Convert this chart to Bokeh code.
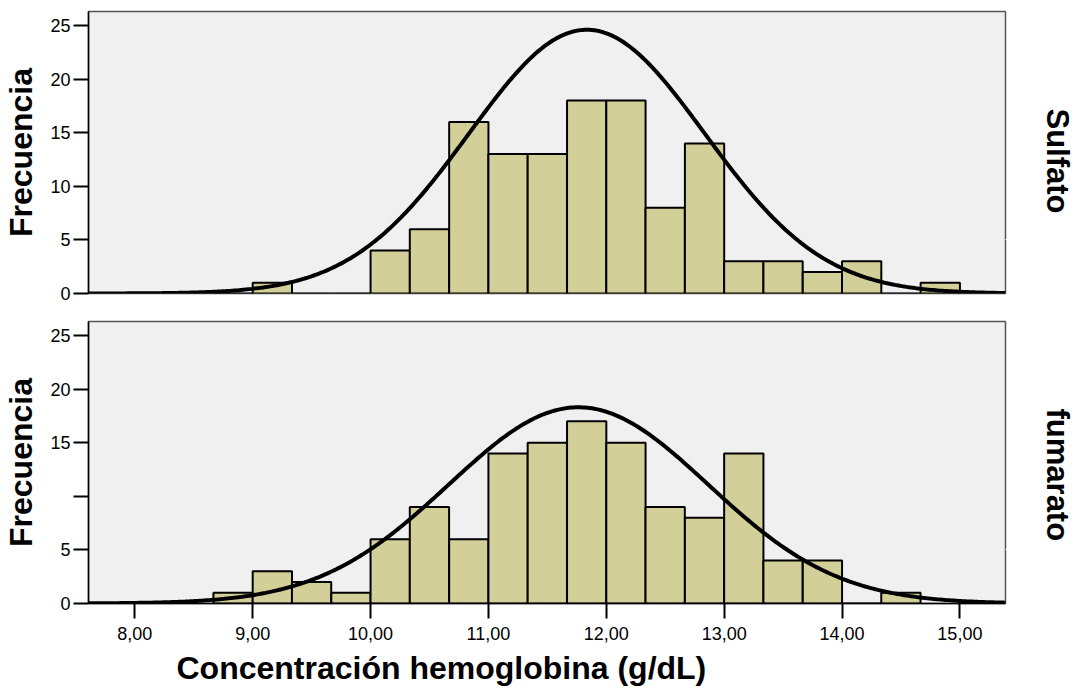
import numpy as np
from bokeh.plotting import figure
from bokeh.layouts import column
from bokeh.models import Range1d, FixedTicker, Title, ColumnDataSource, LinearAxis
from bokeh.embed import file_html
from bokeh.resources import INLINE

# ---------------- data ----------------
bin_left = [8.667, 9.0, 9.333, 9.667, 10.0, 10.333, 10.667, 11.0, 11.333, 11.667,
            12.0, 12.333, 12.667, 13.0, 13.333, 13.667, 14.0, 14.333, 14.667]
bin_width = 1.0 / 3.0

sulfato_counts = [0, 1, 0, 0, 4, 6, 16, 13, 13, 18, 18, 8, 14, 3, 3, 2, 3, 0, 1]
fumarato_counts = [1, 3, 2, 1, 6, 9, 6, 14, 15, 17, 15, 9, 8, 14, 4, 4, 0, 1]

# fitted normal curves (mean, sd, peak height)
sulfato_curve = dict(mean=11.835, sd=1.0, peak=24.6)
fumarato_curve = dict(mean=11.764, sd=1.1, peak=18.3)

x_ticks = [8, 9, 10, 11, 12, 13, 14, 15]
x_tick_labels = ["8,00", "9,00", "10,00", "11,00", "12,00", "13,00", "14,00", "15,00"]
y_ticks = [0, 5, 10, 15, 20, 25]

panel_names = ["Sulfato", "fumarato"]
y_title = "Frecuencia"
x_title = "Concentración hemoglobina (g/dL)"

X_MIN, X_MAX = 7.607, 15.387
Y_MIN, Y_MAX = 0, 26.3

FONT = "Liberation Sans"
BAR_FILL = "#d3cf99"
BG = "#f0f0f0"


def make_panel(counts, curve, name, name_offset, height, top, bottom, show_x,
               hide_y_labels=()):
    p = figure(width=1079, height=height, output_backend="svg", toolbar_location=None,
               x_range=Range1d(X_MIN, X_MAX), y_range=Range1d(Y_MIN, Y_MAX),
               min_border_left=88, min_border_right=74, min_border_top=top,
               min_border_bottom=bottom)
    p.background_fill_color = BG
    p.border_fill_color = "white"
    p.outline_line_color = "#555555"
    p.outline_line_width = 1.5
    p.xgrid.visible = False
    p.ygrid.visible = False

    lefts = np.array(bin_left[:len(counts)])
    src = ColumnDataSource(dict(left=lefts, right=lefts + bin_width,
                                top=np.array(counts, dtype=float),
                                bottom=np.zeros(len(counts))))
    p.quad(left="left", right="right", top="top", bottom="bottom", source=src,
           fill_color=BAR_FILL, line_color="black", line_width=2)

    xs = np.linspace(X_MIN, X_MAX, 400)
    ys = curve["peak"] * np.exp(-0.5 * ((xs - curve["mean"]) / curve["sd"]) ** 2)
    p.line(xs, ys, line_color="black", line_width=4)

    # y axis
    yax = p.yaxis[0]
    yax.ticker = FixedTicker(ticks=y_ticks)
    yax.major_label_overrides = {t: "" for t in hide_y_labels}
    yax.axis_label = y_title
    yax.axis_label_text_font = FONT
    yax.axis_label_text_font_style = "bold"
    yax.axis_label_text_font_size = "32px"
    yax.axis_label_text_color = "black"
    yax.axis_label_standoff = 8
    yax.major_label_text_font = FONT
    yax.major_label_text_font_size = "18px"
    yax.major_label_text_color = "black"
    yax.major_label_standoff = 3
    yax.major_tick_out = 15
    yax.major_tick_in = 0
    yax.major_tick_line_width = 2
    yax.major_tick_line_color = "black"
    yax.minor_tick_line_color = None
    yax.axis_line_color = "black"
    yax.axis_line_width = 1.5

    xax = p.xaxis[0]
    if show_x:
        xax.ticker = FixedTicker(ticks=x_ticks)
        xax.major_label_overrides = {t: l for t, l in zip(x_ticks, x_tick_labels)}
        xax.major_label_text_font = FONT
        xax.major_label_text_font_size = "18px"
        xax.major_label_text_color = "black"
        xax.major_label_standoff = 8
        xax.major_tick_out = 15
        xax.major_tick_in = 0
        xax.major_tick_line_width = 2
        xax.major_tick_line_color = "black"
        xax.minor_tick_line_color = None
        xax.axis_line_color = "black"
        xax.axis_line_width = 1.5
    else:
        xax.visible = False

    # invisible spacer on the right, then the panel name reading top to bottom
    spacer = LinearAxis(ticker=FixedTicker(ticks=[y_ticks[1]]), major_tick_out=34,
                        major_tick_in=0, major_tick_line_color="white",
                        minor_tick_line_color=None, axis_line_color=None,
                        major_label_overrides={y_ticks[1]: ""},
                        major_label_text_font_size="1px", major_label_standoff=0)
    p.add_layout(spacer, "right")
    p.add_layout(Title(text=name, align="left", offset=name_offset, text_font=FONT,
                       text_font_style="bold", text_font_size="31px",
                       text_color="black", standoff=0), "right")
    return p


p1 = make_panel(sulfato_counts, sulfato_curve, panel_names[0], 97, 307, 11, 14, False)
p2 = make_panel(fumarato_counts, fumarato_curve, panel_names[1], 87, 388, 14, 92, True,
                hide_y_labels=(10,))

p2.add_layout(Title(text=x_title, align="left", offset=88, text_font=FONT,
                    text_font_style="bold", text_font_size="32px", text_color="black",
                    standoff=11), "below")

layout = column(p1, p2, spacing=0)

open("out.html", "w").write(file_html(layout, INLINE))
